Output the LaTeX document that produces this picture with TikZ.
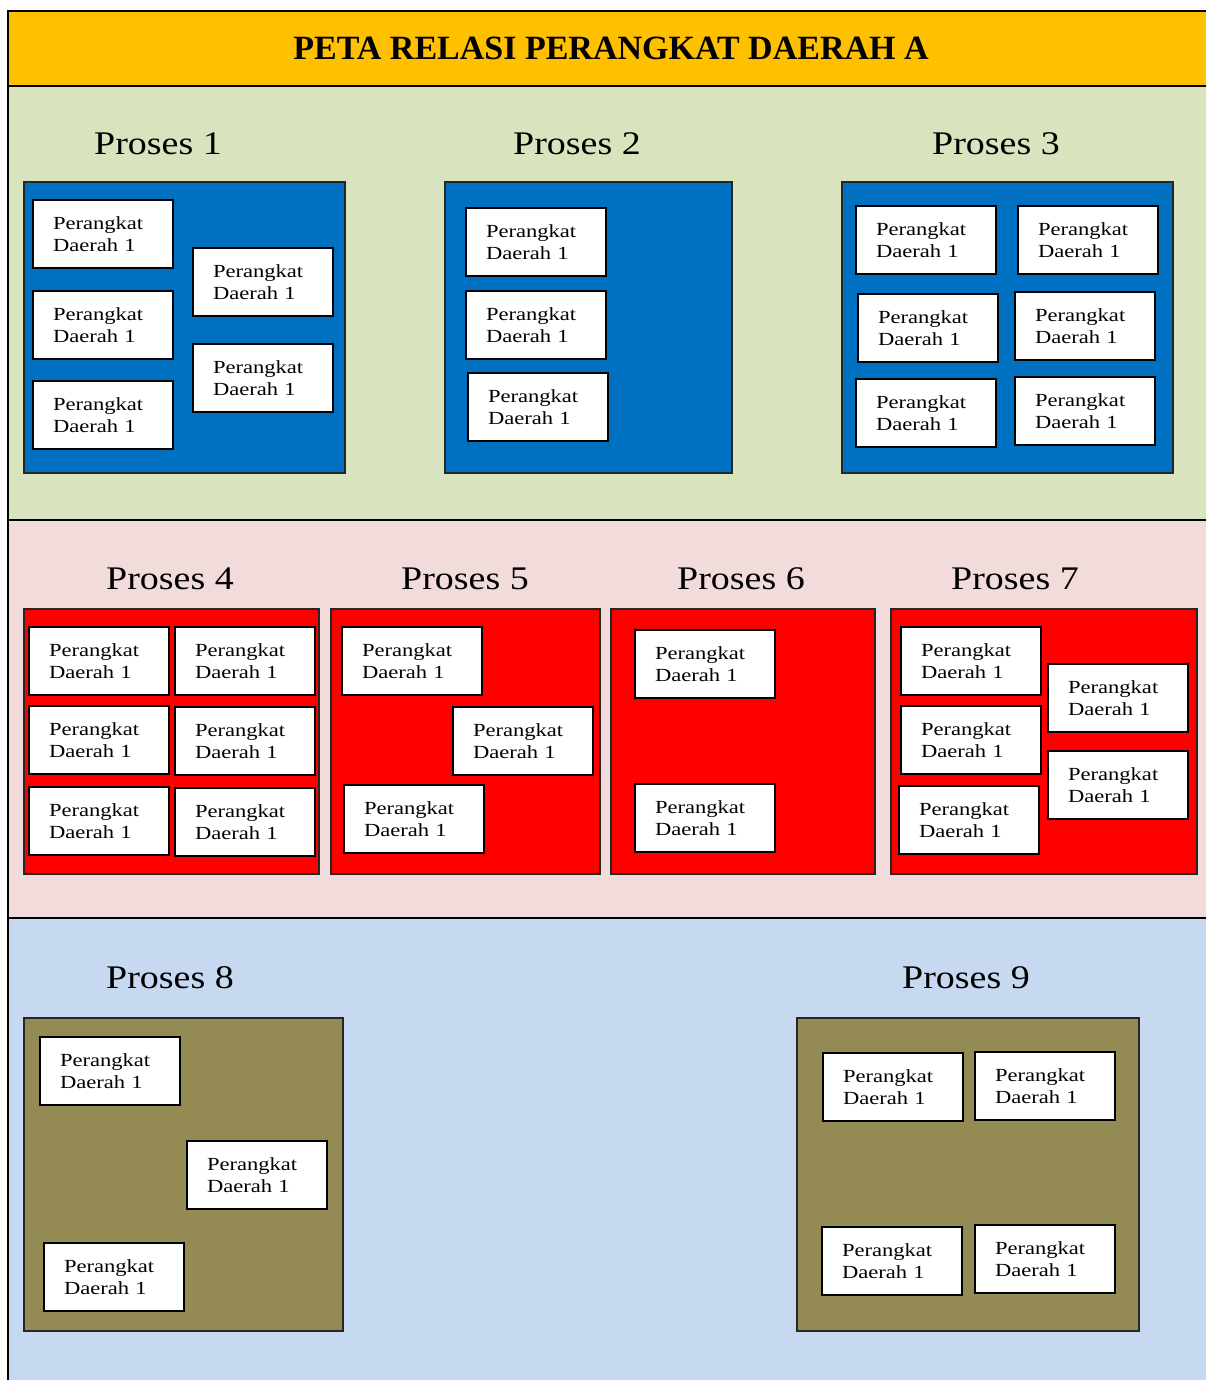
\documentclass[tikz,border=0pt]{standalone}
\usepackage{fontspec}
\setmainfont{Liberation Serif}[FakeStretch=1.22]
\newfontfamily\titlefont{Liberation Serif}
\newfontfamily\procfont{Liberation Serif}[FakeStretch=1.15]
\definecolor{titlebg}{HTML}{FFC000}
\definecolor{greenbg}{HTML}{D7E4BD}
\definecolor{pinkbg}{HTML}{F2DCDB}
\definecolor{bluebg}{HTML}{C6D9F1}
\definecolor{bluebox}{HTML}{0070C0}
\definecolor{redbox}{HTML}{FF0000}
\definecolor{olivebox}{HTML}{948A54}
\tikzset{
  pd/.style={draw=black, line width=2pt, fill=white, inner xsep=20pt, inner ysep=0pt,
    text width=100pt, minimum height=68pt, align=left,
    font=\fontsize{18.5}{22}\selectfont},
  cont/.style={draw=black!85, line width=1.8pt},
  sect/.style={draw=black, line width=2pt},
  proc/.style={anchor=base, inner sep=0pt, font=\procfont\fontsize{33}{38}\selectfont}
}
\newcommand{\PD}{Perangkat\\Daerah 1}
\begin{document}
\begin{tikzpicture}[x=1pt,y=-1pt]
\useasboundingbox (0,0) rectangle (1206,1380);
\clip (0,0) rectangle (1206,1380);
% sections
\filldraw[sect, fill=bluebg] (8,918) rectangle (1230,1400);
\filldraw[sect, fill=pinkbg] (8,520) rectangle (1230,918);
\filldraw[sect, fill=greenbg] (8,86) rectangle (1230,520);
\filldraw[sect, fill=titlebg] (8,11) rectangle (1230,86);
\node[anchor=base, inner sep=0pt, font=\titlefont\bfseries\fontsize{34}{40}\selectfont] (title) at (611,60) {PETA RELASI PERANGKAT DAERAH A};

% Section 1
\node[proc] (p1) at (158,155) {Proses 1};
\node[proc] (p2) at (577,155) {Proses 2};
\node[proc] (p3) at (996,155) {Proses 3};
\filldraw[cont, fill=bluebox] (24,182) rectangle (345,473);
\filldraw[cont, fill=bluebox] (445,182) rectangle (732,473);
\filldraw[cont, fill=bluebox] (842,182) rectangle (1173,473);
\node[pd] (a1) at (103,234) {\PD};
\node[pd] (a2) at (263,282) {\PD};
\node[pd] (a3) at (103,325) {\PD};
\node[pd] (a4) at (263,378) {\PD};
\node[pd] (a5) at (103,415) {\PD};
\node[pd] (b1) at (536,242) {\PD};
\node[pd] (b2) at (536,325) {\PD};
\node[pd] (b3) at (538,407) {\PD};
\node[pd] (c1) at (926,240) {\PD};
\node[pd] (c2) at (1088,240) {\PD};
\node[pd] (c3) at (928,328) {\PD};
\node[pd] (c4) at (1085,326) {\PD};
\node[pd] (c5) at (926,413) {\PD};
\node[pd] (c6) at (1085,411) {\PD};

% Section 2
\node[proc] (p4) at (170,589) {Proses 4};
\node[proc] (p5) at (465,589) {Proses 5};
\node[proc] (p6) at (741,589) {Proses 6};
\node[proc] (p7) at (1015,589) {Proses 7};
\filldraw[cont, fill=redbox] (24,609) rectangle (319,874);
\filldraw[cont, fill=redbox] (331,609) rectangle (600,874);
\filldraw[cont, fill=redbox] (611,609) rectangle (875,874);
\filldraw[cont, fill=redbox] (891,609) rectangle (1197,874);
\node[pd] (d1) at (99,661) {\PD};
\node[pd] (d2) at (245,661) {\PD};
\node[pd] (d3) at (99,740) {\PD};
\node[pd] (d4) at (245,741) {\PD};
\node[pd] (d5) at (99,821) {\PD};
\node[pd] (d6) at (245,822) {\PD};
\node[pd] (e1) at (412,661) {\PD};
\node[pd] (e2) at (523,741) {\PD};
\node[pd] (e3) at (414,819) {\PD};
\node[pd] (f1) at (705,664) {\PD};
\node[pd] (f2) at (705,818) {\PD};
\node[pd] (g1) at (971,661) {\PD};
\node[pd] (g2) at (1118,698) {\PD};
\node[pd] (g3) at (971,740) {\PD};
\node[pd] (g4) at (1118,785) {\PD};
\node[pd] (g5) at (969,820) {\PD};

% Section 3
\node[proc] (p8) at (170,988) {Proses 8};
\node[proc] (p9) at (966,988) {Proses 9};
\filldraw[cont, fill=olivebox] (24,1018) rectangle (343,1331);
\filldraw[cont, fill=olivebox] (797,1018) rectangle (1139,1331);
\node[pd] (h1) at (110,1071) {\PD};
\node[pd] (h2) at (257,1175) {\PD};
\node[pd] (h3) at (114,1277) {\PD};
\node[pd] (i1) at (893,1087) {\PD};
\node[pd] (i2) at (1045,1086) {\PD};
\node[pd] (i3) at (892,1261) {\PD};
\node[pd] (i4) at (1045,1259) {\PD};
\end{tikzpicture}
\end{document}
